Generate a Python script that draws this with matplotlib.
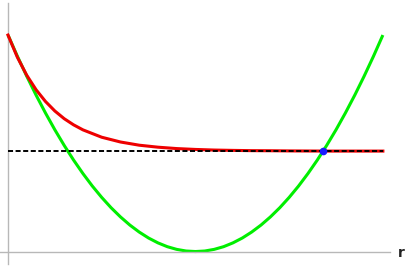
import matplotlib
matplotlib.use("Agg")
import matplotlib.pyplot as plt

# green parabola, sampled every 0.25 in r
r_green = [i * 0.25 for i in range(41)]
y_green = [25.0, 22.56, 20.25, 18.06, 16.0, 14.06, 12.25, 10.56, 9.0, 7.56,
           6.25, 5.06, 4.0, 3.06, 2.25, 1.56, 1.0, 0.56, 0.25, 0.06,
           0.0, 0.06, 0.25, 0.56, 1.0, 1.56, 2.25, 3.06, 4.0, 5.06,
           6.25, 7.56, 9.0, 10.56, 12.25, 14.06, 16.0, 18.06, 20.25, 22.56, 25.0]

# red decaying curve
r_red = [0, 0.25, 0.5, 0.75, 1, 1.25, 1.5, 1.75, 2, 2.5, 3, 3.5, 4, 4.5, 5,
         5.5, 6, 6.5, 7, 7.5, 8, 8.5, 9, 9.5, 10]
y_red = [25.0, 22.44, 20.36, 18.68, 17.33, 16.23, 15.34, 14.63, 14.05, 13.20,
         12.65, 12.28, 12.05, 11.89, 11.79, 11.72, 11.68, 11.65, 11.64, 11.62,
         11.61, 11.60, 11.60, 11.60, 11.60]

level = 11.6
r_range = [0, 10]
cross_r = 8.4

fig = plt.figure(figsize=(4.06, 2.66), dpi=100)
ax = fig.add_axes([0, 0.0075, 0.9606, 0.9812])

ax.plot(r_green, y_green, color="#00ee00", lw=2.2, solid_capstyle="butt", zorder=2)
ax.plot(r_red, y_red, color="#ee0000", lw=2.2, zorder=3)
ax.plot(r_range, [level, level], color="black", lw=1.4, ls=(0, (2.6, 1.3)), zorder=4)
ax.plot([cross_r], [level], "o", color="#1a1aff", ms=4.5, zorder=5)

ax.set_xlim(-0.213, 10.19)
ax.set_ylim(-1.44, 28.7)
ax.spines["left"].set_position(("data", 0))
ax.spines["bottom"].set_position(("data", 0))
for s in ["top", "right"]:
    ax.spines[s].set_visible(False)
for s in ["left", "bottom"]:
    ax.spines[s].set_color("#b8b8b8")
    ax.spines[s].set_linewidth(1.0)
ax.set_xticks([])
ax.set_yticks([])
ax.patch.set_alpha(0)

fig.text(401 / 406, 1 - 253 / 266, "r", ha="center", va="center",
         fontsize=10, fontweight="bold", color="#222222")

fig.savefig("out.png", dpi=100)
